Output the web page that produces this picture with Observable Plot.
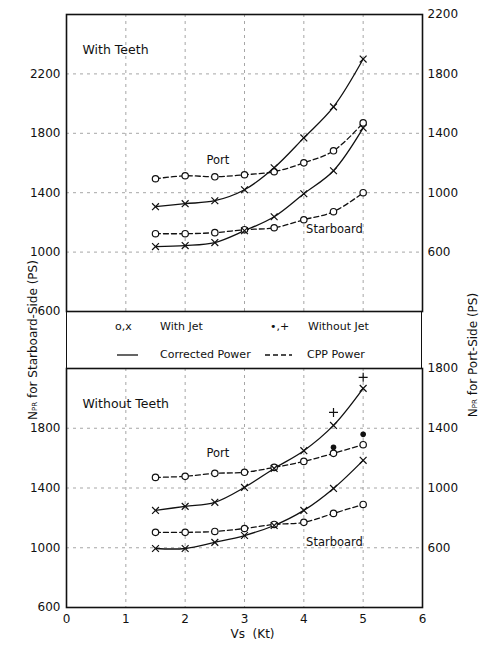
<!DOCTYPE html>
<html>
<head>
<meta charset="utf-8">
<script src="https://cdn.jsdelivr.net/npm/d3@7"></script>
<script src="https://cdn.jsdelivr.net/npm/@observablehq/plot@0.6"></script>
<style>
  html, body { margin: 0; padding: 0; background: #fff; }
  #chart { position: relative; width: 482px; height: 653px; background: #fff; font-family: "DejaVu Sans", sans-serif; color: #111; }
  #chart > .panel { position: absolute; left: 0; }
  #chart svg { overflow: visible; }
  #legend { position: absolute; left: 66px; top: 311px; width: 356px; height: 57px; box-sizing: border-box; border-left: 1.5px solid #111; border-right: 1.5px solid #111; }
  #titles { position: absolute; left: 0; top: 0; pointer-events: none; }
</style>
</head>
<body>
<div id="chart">
  <div class="panel" id="top"></div>
  <div id="legend"></div>
  <div class="panel" id="bottom" style="top:368px"></div>
</div>
<script>
// Ship speed Vs (Kt) at which power was measured
const speed = [1.5, 2, 2.5, 3, 3.5, 4, 4.5, 5];

// With Teeth: starboard powers (left axis, PS) and port powers (right axis, PS)
const teethStbdCpp       = [1124, 1124, 1131, 1151, 1164, 1218, 1272, 1400];
const teethStbdCorrected = [1037, 1044, 1064, 1144, 1238, 1393, 1548, 1836];
const teethPortCpp       = [1094, 1114, 1107, 1121, 1141, 1201, 1282, 1470];
const teethPortCorrected = [906, 926, 946, 1020, 1168, 1369, 1578, 1900];

// Without Teeth
const bareStbdCpp       = [1103, 1103, 1109, 1129, 1156, 1170, 1230, 1290];
const bareStbdCorrected = [995, 995, 1036, 1082, 1149, 1250, 1397, 1585];
const barePortCpp       = [1071, 1078, 1098, 1105, 1138, 1178, 1232, 1290];
const barePortCorrected = [850, 877, 904, 1004, 1131, 1250, 1419, 1667];

// Without-jet readings on the port side, Without Teeth
const bareNoJetSpeed     = [4.5, 5];
const bareNoJetPortCpp   = [1272, 1359];
const bareNoJetPortCorr  = [1506, 1741];

// Axis ticks
const xTicks = [0, 1, 2, 3, 4, 5, 6];
const teethStbdTicks = [600, 1000, 1400, 1800, 2200];
const teethPortTicks = [600, 1000, 1400, 1800, 2200];
const bareStbdTicks = [600, 1000, 1400, 1800];
const barePortTicks = [600, 1000, 1400, 1800];

// Port-side scale reads 400 PS below the starboard-side scale
const portShift = 400;

function rows(side, power, values) {
  return values.map((v, i) => ({side, power, speed: speed[i], v, y: side === "Port" ? v + portShift : v}));
}

function panel(opts) {
  const {title, stbdCpp, stbdCorr, portCpp, portCorr, stbdTicks, portTicks, yDomain,
         height, marginTop, marginBottom, showX, extras} = opts;
  const cppLines = [...rows("Starboard", "CPP", stbdCpp), ...rows("Port", "CPP", portCpp)];
  const corrLines = [...rows("Starboard", "Corrected", stbdCorr), ...rows("Port", "Corrected", portCorr)];
  const gridStyle = {stroke: "#222", strokeOpacity: 0.45, strokeWidth: 0.9, strokeDasharray: "3,4"};
  const marks = [
    Plot.gridX(xTicks.slice(1, -1), gridStyle),
    Plot.gridY(stbdTicks.slice(1), gridStyle),
    Plot.line(corrLines, {x: "speed", y: "y", z: "side", curve: "catmull-rom", stroke: "#111", strokeWidth: 1.3}),
    Plot.line(cppLines, {x: "speed", y: "y", z: "side", curve: "catmull-rom", stroke: "#111", strokeWidth: 1.3, strokeDasharray: "5,3"}),
    Plot.dot(cppLines, {x: "speed", y: "y", symbol: "circle", r: 3.2, fill: "#fff", stroke: "#111", strokeWidth: 1.2}),
    Plot.dot(corrLines, {x: "speed", y: "y", symbol: "times", r: 3.2, stroke: "#111", strokeWidth: 1.2}),
    Plot.frame({stroke: "#111", strokeWidth: 1.6}),
    Plot.axisY(stbdTicks, {anchor: "left", tickSize: 0, tickPadding: 6, tickFormat: d => String(d), label: null}),
    Plot.axisY(portTicks.map(t => t + portShift), {anchor: "right", tickSize: 0, tickPadding: 5, tickFormat: d => String(d - portShift), label: null}),
    Plot.text([title], {frameAnchor: "top-left", dx: 16, dy: 31, textAnchor: "start", fontSize: 12.5}),
    Plot.text(["Port"], {x: speed[2], y: portCpp[2] + portShift, dx: 3, dy: opts.portDy, fontSize: 11.5}),
    Plot.text(["Starboard"], {x: speed[6], y: stbdCpp[6], dx: 1, dy: opts.stbdDy, fontSize: 11.5})
  ];
  if (extras) {
    const dots = extras.cpp.map((v, i) => ({speed: extras.speed[i], y: v + portShift}));
    const plus = extras.corr.map((v, i) => ({speed: extras.speed[i], y: v + portShift}));
    marks.push(Plot.dot(dots, {x: "speed", y: "y", r: 2.8, fill: "#111"}));
    marks.push(Plot.dot(plus, {x: "speed", y: "y", symbol: "plus", r: 3, stroke: "#111", strokeWidth: 1.2}));
  }
  if (showX) {
    marks.push(Plot.axisX(xTicks, {tickSize: 0, tickPadding: 7, tickFormat: d => String(d), label: null}));
    marks.push(Plot.text(["Vs  (Kt)"], {frameAnchor: "bottom", dx: 8, dy: 30, fontSize: 12}));
  }
  return Plot.plot({
    width: 482, height, marginLeft: 66, marginRight: 60, marginTop, marginBottom,
    x: {domain: [0, 6], axis: null},
    y: {domain: yDomain, axis: null},
    style: {fontFamily: "DejaVu Sans, sans-serif", fontSize: "12px", background: "transparent", color: "#111", overflow: "visible"},
    marks
  });
}

document.getElementById("top").append(panel({
  title: "With Teeth",
  stbdCpp: teethStbdCpp, stbdCorr: teethStbdCorrected, portCpp: teethPortCpp, portCorr: teethPortCorrected,
  stbdTicks: teethStbdTicks, portTicks: teethPortTicks, yDomain: [600, 2600],
  height: 312, marginTop: 14, marginBottom: 1, showX: false, portDy: -16, stbdDy: 18
}));

document.getElementById("bottom").append(panel({
  title: "Without Teeth",
  stbdCpp: bareStbdCpp, stbdCorr: bareStbdCorrected, portCpp: barePortCpp, portCorr: barePortCorrected,
  stbdTicks: bareStbdTicks, portTicks: barePortTicks, yDomain: [600, 2200],
  height: 285, marginTop: 0, marginBottom: 46, showX: true, portDy: -20, stbdDy: 29,
  extras: {speed: bareNoJetSpeed, cpp: bareNoJetPortCpp, corr: bareNoJetPortCorr}
}));

// Legend for marker and line meanings
const ns = "http://www.w3.org/2000/svg";
const leg = document.createElementNS(ns, "svg");
leg.setAttribute("width", 356); leg.setAttribute("height", 57);
leg.setAttribute("font-family", "DejaVu Sans, sans-serif");
leg.setAttribute("font-size", "11");
leg.style.position = "absolute"; leg.style.left = "-1.5px"; leg.style.top = "0";
function legText(str, x, y) {
  const t = document.createElementNS(ns, "text");
  t.setAttribute("x", x); t.setAttribute("y", y); t.setAttribute("dominant-baseline", "middle");
  t.setAttribute("fill", "#111"); t.textContent = str; leg.append(t);
}
function legLine(x1, x2, y, dash) {
  const l = document.createElementNS(ns, "line");
  l.setAttribute("x1", x1); l.setAttribute("x2", x2); l.setAttribute("y1", y); l.setAttribute("y2", y);
  l.setAttribute("stroke", "#111"); l.setAttribute("stroke-width", 1.3);
  if (dash) l.setAttribute("stroke-dasharray", dash);
  leg.append(l);
}
legText("o,x", 49, 16); legText("With Jet", 94, 16);
legText("\u2022,+", 204, 16); legText("Without Jet", 242, 16);
legLine(51, 72, 44); legText("Corrected Power", 94, 44);
legLine(199, 226, 44, "5,3"); legText("CPP  Power", 241, 44);
document.getElementById("legend").append(leg);

// Axis titles spanning both panels
const titles = document.createElementNS(ns, "svg");
titles.setAttribute("id", "titles");
titles.setAttribute("width", 482); titles.setAttribute("height", 653);
titles.setAttribute("font-family", "DejaVu Sans, sans-serif");
titles.setAttribute("font-size", "12");
function vTitle(x, y, side) {
  const t = document.createElementNS(ns, "text");
  t.setAttribute("transform", `translate(${x},${y}) rotate(-90)`);
  t.setAttribute("text-anchor", "middle"); t.setAttribute("dominant-baseline", "middle");
  t.setAttribute("fill", "#111");
  const n = document.createElementNS(ns, "tspan"); n.textContent = "N"; t.append(n);
  const s = document.createElementNS(ns, "tspan"); s.textContent = "PR"; s.setAttribute("font-size", "7"); s.setAttribute("dy", "2"); t.append(s);
  const r = document.createElementNS(ns, "tspan"); r.textContent = ` for ${side}  (PS)`; r.setAttribute("dy", "-2"); t.append(r);
  titles.append(t);
}
vTitle(33, 340, "Starboard-Side");
vTitle(473, 355, "Port-Side");
document.getElementById("chart").append(titles);
</script>
</body>
</html>
